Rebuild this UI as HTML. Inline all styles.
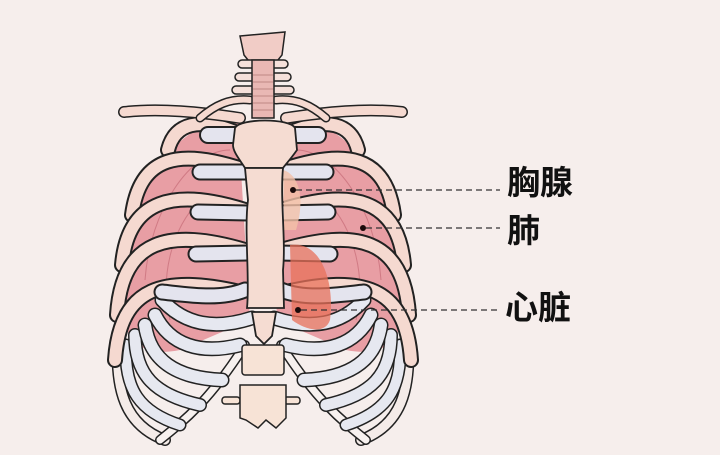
<!DOCTYPE html>
<html><head><meta charset="utf-8"><style>
html,body{margin:0;padding:0;background:#f6eeec;}
.lab{position:absolute;font-family:"Liberation Sans","Noto Sans CJK SC",sans-serif;font-weight:bold;font-size:33px;color:#111;line-height:1;}
</style></head><body>
<div style="position:relative;width:720px;height:455px;overflow:hidden;">
<svg width="720" height="455" viewBox="0 0 720 455" style="position:absolute;left:0;top:0">
<defs>
<g id="half">
  <!-- lung -->
  <path d="M238 120 C185 115 132 180 122 260 C115 330 130 360 180 350 L250 320 Z" fill="#e89ea4"/>
  <path d="M230 150 C190 150 150 210 145 280 M200 200 C170 230 160 280 170 320" fill="none" stroke="#d07a84" stroke-width="1"/>
  <g fill="none" stroke-linecap="round">
    <!-- back lower ribs -->
    <path d="M118 340 C115 390 125 425 165 440" stroke="#222" stroke-width="12"/>
    <path d="M118 340 C115 390 125 425 165 440" stroke="#f4ebe8" stroke-width="9"/>
    <path d="M245 345 C210 400 185 420 160 440" stroke="#222" stroke-width="10"/>
    <path d="M245 345 C210 400 185 420 160 440" stroke="#f7f1ef" stroke-width="7"/>
    <path d="M126 345 C124 390 140 412 180 425" stroke="#222" stroke-width="13"/>
    <path d="M126 345 C124 390 140 412 180 425" stroke="#e6e8f0" stroke-width="10"/>
    <path d="M135 335 C135 375 155 395 200 405" stroke="#222" stroke-width="14"/>
    <path d="M135 335 C135 375 155 395 200 405" stroke="#e6e8f0" stroke-width="11"/>
    <path d="M145 325 C150 360 175 378 222 380" stroke="#222" stroke-width="15"/>
    <path d="M145 325 C150 360 175 378 222 380" stroke="#e6e8f0" stroke-width="12"/>
    <path d="M155 315 C170 345 200 355 240 345" stroke="#222" stroke-width="15"/>
    <path d="M155 315 C170 345 200 355 240 345" stroke="#e6e8f0" stroke-width="12"/>
    <path d="M162 300 C185 325 215 330 252 318" stroke="#222" stroke-width="15"/>
    <path d="M162 300 C185 325 215 330 252 318" stroke="#e6e8f0" stroke-width="12"/>
    <!-- upper ribs -->
    <path d="M235 132 C200 118 175 122 168 150" stroke="#222" stroke-width="16"/>
    <path d="M235 132 C200 118 175 122 168 150" stroke="#f5d9d0" stroke-width="12"/>
    <path d="M245 170 C180 148 140 155 132 215" stroke="#222" stroke-width="16"/>
    <path d="M245 170 C180 148 140 155 132 215" stroke="#f5d9d0" stroke-width="12"/>
    <path d="M245 210 C175 188 128 198 122 265" stroke="#222" stroke-width="16"/>
    <path d="M245 210 C175 188 128 198 122 265" stroke="#f5d9d0" stroke-width="12"/>
    <path d="M245 250 C170 228 122 238 117 315" stroke="#222" stroke-width="16"/>
    <path d="M245 250 C170 228 122 238 117 315" stroke="#f5d9d0" stroke-width="12"/>
    <path d="M240 292 C165 275 120 285 115 360" stroke="#222" stroke-width="16"/>
    <path d="M240 292 C165 275 120 285 115 360" stroke="#f5d9d0" stroke-width="12"/>
    <!-- cartilages -->
    <path d="M238 135 L208 135" stroke="#222" stroke-width="18"/>
    <path d="M238 135 L208 135" stroke="#e4e4ee" stroke-width="14"/>
    <path d="M248 172 L200 172" stroke="#222" stroke-width="17"/>
    <path d="M248 172 L200 172" stroke="#e4e4ee" stroke-width="13"/>
    <path d="M248 213 L198 212" stroke="#222" stroke-width="17"/>
    <path d="M248 213 L198 212" stroke="#e4e4ee" stroke-width="13"/>
    <path d="M248 253 L196 254" stroke="#222" stroke-width="17"/>
    <path d="M248 253 L196 254" stroke="#e4e4ee" stroke-width="13"/>
    <path d="M245 290 C220 300 190 295 162 292" stroke="#222" stroke-width="17"/>
    <path d="M245 290 C220 300 190 295 162 292" stroke="#e4e4ee" stroke-width="13"/>
    <!-- clavicle -->
    <path d="M240 118 C200 112 160 108 124 112" stroke="#222" stroke-width="12"/>
    <path d="M240 118 C200 112 160 108 124 112" stroke="#f5d9d0" stroke-width="9"/>
    <path d="M250 100 C230 98 215 105 200 118" stroke="#222" stroke-width="9"/>
    <path d="M250 100 C230 98 215 105 200 118" stroke="#f5d9d0" stroke-width="6"/>
  </g>
</g>
</defs>
<use href="#half"/>
<use href="#half" transform="translate(526,0) scale(-1,1)"/>
<!-- heart -->
<path d="M290 245 C320 240 335 280 330 320 C325 335 305 330 292 320 Z" fill="#e8705a" opacity="0.75"/>
<path d="M283 170 C300 175 305 200 296 230 L284 230 Z" fill="#f2c0a8" opacity="0.8"/>
<!-- neck spine -->
<g stroke="#222" stroke-width="1.5" fill="#f1ccc6">
  <path d="M240 36 L285 32 L282 55 L270 70 L256 70 L244 55 Z"/>
  <rect x="238" y="60" width="50" height="8" rx="4" fill="#f5e0da"/>
  <rect x="235" y="73" width="56" height="8" rx="4" fill="#f5e0da"/>
  <rect x="232" y="86" width="62" height="8" rx="4" fill="#f5e0da"/>
  <rect x="252" y="60" width="22" height="58" fill="#e9b8b4"/>
</g>
<g stroke="#c08884" stroke-width="1">
  <line x1="253" y1="75" x2="273" y2="75"/><line x1="253" y1="82" x2="273" y2="82"/><line x1="253" y1="89" x2="273" y2="89"/><line x1="253" y1="96" x2="273" y2="96"/><line x1="253" y1="103" x2="273" y2="103"/><line x1="253" y1="110" x2="273" y2="110"/>
</g>
<!-- lumbar vertebrae -->
<g stroke="#222" stroke-width="1.5" fill="#f7e3d6">
  <rect x="242" y="345" width="42" height="30" rx="3"/>
  <rect x="222" y="397" width="18" height="7" rx="3"/>
  <rect x="284" y="397" width="16" height="7" rx="3"/>
  <path d="M240 385 L286 385 L286 418 L276 428 L266 420 L258 428 L246 420 L240 418 Z"/>
</g>
<!-- sternum -->
<g stroke="#222" stroke-width="1.8" fill="#f5dcd2">
  <path d="M235 128 C240 118 290 118 295 128 L297 150 C290 160 285 165 283 168 L245 168 C240 160 233 152 233 145 Z"/>
  <path d="M245 168 L283 168 C280 200 286 240 283 270 L284 308 L247 308 C250 280 244 230 248 200 Z"/>
  <path d="M252 312 L276 312 L272 336 L264 344 L256 336 Z"/>
</g>
<!-- dots & dashed lines -->
<g fill="#1a0a0a">
  <circle cx="293" cy="190" r="3"/><circle cx="363" cy="228" r="3"/><circle cx="298" cy="310" r="3"/>
</g>
<g stroke="#333" stroke-width="1.3" stroke-dasharray="6 4">
  <line x1="296" y1="190" x2="500" y2="190"/>
  <line x1="366" y1="228" x2="500" y2="228"/>
  <line x1="301" y1="310" x2="500" y2="310"/>
</g>
</svg>
<div class="lab" style="left:507px;top:166px">胸腺</div>
<div class="lab" style="left:507px;top:214px">肺</div>
<div class="lab" style="left:505px;top:291px">心脏</div>
</div>
</body></html>
